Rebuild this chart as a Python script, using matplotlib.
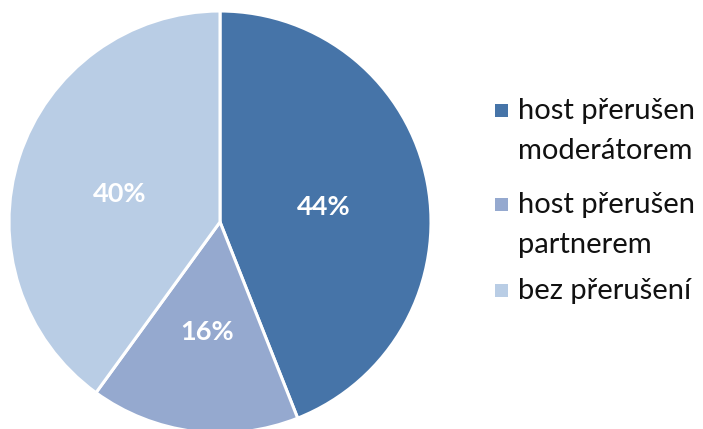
import matplotlib.pyplot as plt
from matplotlib.patches import Rectangle

# ── Data ────────────────────────────────────────────
labels = ["host přerušen\nmoderátorem", "host přerušen\npartnerem", "bez přerušení"]
values = [44, 16, 40]
colors = ["#4674A8", "#95A9CF", "#B9CDE5"]

plt.rcParams["font.family"] = ["Lato", "DejaVu Sans"]

fig = plt.figure(figsize=(7.03, 4.29), dpi=100, facecolor="white")
W, H = 703, 429

# pie axes placed in pixel terms: circle centre (220, 222), radius 211
cx, cy, r = 220, 222, 211
ax = fig.add_axes([(cx - r) / W, (H - cy - r) / H, 2 * r / W, 2 * r / H])
wedges, texts, autotexts = ax.pie(
    values, colors=colors, startangle=90, counterclock=False,
    autopct=lambda p: f"{p:.0f}%", pctdistance=0.5,
    wedgeprops=dict(edgecolor="white", linewidth=2.2),
    textprops=dict(color="white", fontsize=19.5, fontweight="bold"))
for t in autotexts:
    t.set_y(t.get_position()[1] - 0.023)   # sit a touch lower, like the original
ax.set_xlim(-1, 1)
ax.set_ylim(-1, 1)
ax.axis("off")

# ── Legend (manual, marker aligned with first line) ──
first_baselines = [119, 213, 299]
line_gap = 40
for lab, col, yb in zip(labels, colors, first_baselines):
    fig.patches.append(Rectangle((495 / W, 1 - (yb - 2) / H), 13 / W, 13 / H,
                                 transform=fig.transFigure, facecolor=col,
                                 edgecolor="none"))
    for k, line in enumerate(lab.split("\n")):
        fig.text(518 / W, 1 - (yb + k * line_gap) / H, line,
                 fontsize=21, color="#111111", va="baseline", ha="left")

plt.savefig("out.png", dpi=100, facecolor=fig.get_facecolor())
plt.close()
